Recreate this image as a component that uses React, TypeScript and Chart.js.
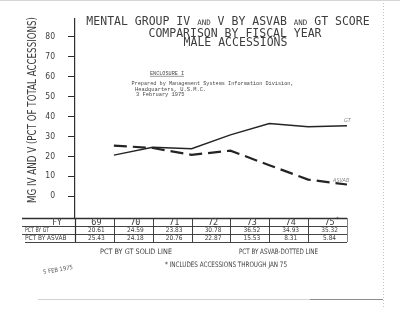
import React, { useEffect, useRef } from 'react';
import { Chart, registerables } from 'chart.js';

Chart.register(...registerables);

const fiscalYears = [69, 70, 71, 72, 73, 74, 75];
const fyLabels = ['69', '70', '71', '72', '73', '74', '75'];
const pctByGT = [20.61, 24.59, 23.83, 30.78, 36.52, 34.93, 35.32];
const pctByASVAB = [25.43, 24.18, 20.76, 22.87, 15.53, 8.31, 5.84];
const yTicks = [0, 10, 20, 30, 40, 50, 60, 70, 80];

const INK = '#2f2f2f';
const TXT = '#3d3d3d';
const NARROW = '"Liberation Sans Narrow", "DejaVu Sans Condensed", "Arial Narrow", "Liberation Sans", sans-serif';
const MONO = '"DejaVu Sans Mono", "Liberation Mono", monospace';
const TYPE = '"Liberation Mono", "Courier New", monospace';

function txt(
  ctx: CanvasRenderingContext2D,
  s: string,
  x: number,
  y: number,
  font: string,
  color: string,
  align: CanvasTextAlign = 'left',
  maxW?: number
) {
  ctx.save();
  ctx.font = font;
  ctx.fillStyle = color;
  ctx.textAlign = align;
  ctx.textBaseline = 'middle';
  if (maxW) ctx.fillText(s, x, y, maxW);
  else ctx.fillText(s, x, y);
  ctx.restore();
}

const decorPlugin = {
  id: 'decor',
  beforeDraw(chart: any) {
    const ctx = chart.ctx as CanvasRenderingContext2D;
    ctx.save();
    ctx.fillStyle = '#ffffff';
    ctx.fillRect(0, 0, chart.width, chart.height);
    ctx.restore();
  },
  afterDraw(chart: any) {
    const ctx = chart.ctx as CanvasRenderingContext2D;
    const xs = chart.scales.x;
    const ys = chart.scales.y;
    const ca = chart.chartArea;

    // ---- Title (lettering-guide style) ----
    const big = `11.5px ${MONO}`;
    const small = `7.5px ${MONO}`;
    const segs: [string, string][] = [
      ['MENTAL GROUP IV ', big],
      ['AND', small],
      [' V BY ASVAB ', big],
      ['AND', small],
      [' GT SCORE', big],
    ];
    ctx.save();
    let total = 0;
    for (const [s, f] of segs) {
      ctx.font = f;
      total += ctx.measureText(s).width;
    }
    let cx = 228 - total / 2;
    for (const [s, f] of segs) {
      ctx.font = f;
      const w = ctx.measureText(s).width;
      txt(ctx, s, cx, f === big ? 22.5 : 23.5, f, TXT, 'left');
      cx += w;
    }
    ctx.restore();
    txt(ctx, 'COMPARISON BY FISCAL YEAR', 235, 33.7, big, TXT, 'center');
    txt(ctx, 'MALE ACCESSIONS', 235.5, 43.5, big, TXT, 'center');

    // ---- Y axis title ----
    ctx.save();
    ctx.translate(32.5, 110);
    ctx.rotate(-Math.PI / 2);
    txt(ctx, 'MG IV AND V (PCT OF TOTAL ACCESSIONS)', 0, 0, `12px ${NARROW}`, TXT, 'center', 186);
    ctx.restore();

    // ---- Enclosure typed note ----
    const typed = `5.4px ${TYPE}`;
    txt(ctx, 'ENCLOSURE I', 150, 73.3, typed, '#484848', 'left', 34);
    ctx.save();
    ctx.strokeStyle = '#555';
    ctx.lineWidth = 0.6;
    ctx.beginPath();
    ctx.moveTo(150, 76.3);
    ctx.lineTo(184, 76.3);
    ctx.stroke();
    ctx.restore();
    txt(ctx, 'Prepared by Management Systems Information Division,', 131.5, 84, typed, '#484848', 'left', 162);
    txt(ctx, 'Headquarters, U.S.M.C.', 135, 89.3, typed, '#484848', 'left');
    txt(ctx, '3 February 1975', 136, 94.4, typed, '#484848', 'left');

    // ---- Line end labels ----
    const endX = xs.getPixelForValue(fiscalYears[fiscalYears.length - 1]);
    txt(ctx, 'GT', endX - 3, ys.getPixelForValue(pctByGT[6]) - 5, `italic 5.5px ${NARROW}`, '#8a8a8a', 'left');
    txt(ctx, 'ASVAB', endX - 14, ys.getPixelForValue(pctByASVAB[6]) - 4, `italic 5.5px ${NARROW}`, '#8a8a8a', 'left');

    // ---- Table ----
    const tTop = ca.bottom;
    const rowH = 8;
    const leftEdge = 22;
    const rightEdge = xs.getPixelForValue(75);
    ctx.save();
    ctx.strokeStyle = INK;
    ctx.lineWidth = 1.6;
    ctx.beginPath();
    ctx.moveTo(leftEdge, tTop + 0.5);
    ctx.lineTo(rightEdge, tTop + 0.5);
    ctx.stroke();
    ctx.lineWidth = 0.9;
    for (let r = 1; r <= 3; r++) {
      ctx.beginPath();
      ctx.moveTo(leftEdge + (r === 3 ? 3 : 0), tTop + r * rowH + 0.5);
      ctx.lineTo(rightEdge, tTop + r * rowH + 0.5);
      ctx.stroke();
    }
    for (let v = 68; v <= 75; v++) {
      const px = Math.round(xs.getPixelForValue(v)) + 0.5;
      ctx.lineWidth = v === 68 ? 1.2 : 0.9;
      ctx.strokeStyle = v === 75 ? '#777' : INK;
      ctx.beginPath();
      ctx.moveTo(px, tTop);
      ctx.lineTo(px, tTop + 3 * rowH);
      ctx.stroke();
    }
    ctx.restore();

    const rowMid = (r: number) => tTop + r * rowH + rowH / 2 + 0.5;
    txt(ctx, 'FY', 57, rowMid(0), `8px ${MONO}`, TXT, 'center', 16);
    txt(ctx, 'PCT BY GT', 25, rowMid(1), `6.5px ${NARROW}`, TXT, 'left', 24);
    txt(ctx, 'PCT BY ASVAB', 25, rowMid(2), `6.5px ${NARROW}`, TXT, 'left', 48);
    fiscalYears.forEach((yr, i) => {
      const c = (xs.getPixelForValue(yr - 1) + xs.getPixelForValue(yr)) / 2 + 2;
      txt(ctx, fyLabels[i], c, rowMid(0), `8.5px ${MONO}`, TXT, 'center');
      if (i === fiscalYears.length - 1) {
        txt(ctx, '*', c + 8, rowMid(0) - 3, `6px ${MONO}`, TXT, 'center');
      }
      txt(ctx, pctByGT[i].toFixed(2), c, rowMid(1), `6.5px ${NARROW}`, TXT, 'center', 17);
      txt(ctx, pctByASVAB[i].toFixed(2), c, rowMid(2), `6.5px ${NARROW}`, TXT, 'center', 17);
    });

    // ---- Notes below table ----
    txt(ctx, 'PCT BY GT SOLID LINE', 136, 252, `7.5px ${NARROW}`, TXT, 'center', 72);
    txt(ctx, 'PCT BY ASVAB-DOTTED LINE', 278.5, 252, `7.5px ${NARROW}`, TXT, 'center', 79);
    txt(ctx, '* INCLUDES ACCESSIONS THROUGH JAN 75', 226, 265, `7.5px ${NARROW}`, TXT, 'center', 122);

    // ---- Received stamp ----
    ctx.save();
    ctx.translate(58, 270);
    ctx.rotate(-0.17);
    txt(ctx, '5 FEB 1975', 0, 0, `6px ${NARROW}`, '#555', 'center', 30);
    ctx.restore();

    // ---- Scan artifacts ----
    ctx.save();
    ctx.strokeStyle = '#c4c4c4';
    ctx.lineWidth = 1;
    ctx.setLineDash([1, 2]);
    ctx.beginPath();
    ctx.moveTo(383.5, 0);
    ctx.lineTo(383.5, 309);
    ctx.stroke();
    ctx.setLineDash([]);
    ctx.strokeStyle = '#d2d2d2';
    ctx.beginPath();
    ctx.moveTo(38, 299.5);
    ctx.lineTo(310, 299.5);
    ctx.stroke();
    ctx.strokeStyle = '#8c8c8c';
    ctx.beginPath();
    ctx.moveTo(310, 299.5);
    ctx.lineTo(383, 299.5);
    ctx.stroke();
    ctx.strokeStyle = '#d6d6d6';
    ctx.beginPath();
    ctx.moveTo(0, 0.5);
    ctx.lineTo(400, 0.5);
    ctx.stroke();
    ctx.restore();
  },
};

export default function App() {
  const ref = useRef<HTMLCanvasElement | null>(null);

  useEffect(() => {
    if (!ref.current) return;
    const chart = new Chart(ref.current, {
      type: 'line',
      data: {
        datasets: [
          {
            label: 'PCT BY GT',
            data: fiscalYears.map((x, i) => ({ x, y: pctByGT[i] })),
            borderColor: '#242424',
            borderWidth: 1.5,
            pointRadius: 0,
            tension: 0,
            fill: false,
          },
          {
            label: 'PCT BY ASVAB',
            data: fiscalYears.map((x, i) => ({ x, y: pctByASVAB[i] })),
            borderColor: '#242424',
            borderWidth: 2.2,
            borderDash: [13, 6],
            pointRadius: 0,
            tension: 0,
            fill: false,
          },
        ],
      },
      options: {
        responsive: false,
        animation: false,
        devicePixelRatio: 1,
        layout: { padding: { top: 17, right: 53, bottom: 91, left: 0 } },
        plugins: {
          legend: { display: false },
          tooltip: { enabled: false },
          title: { display: false },
        },
        scales: {
          x: { type: 'linear', min: 68, max: 75, display: false },
          y: {
            type: 'linear',
            min: -11,
            max: 89.5,
            afterFit: (s: any) => {
              s.width = 75;
            },
            afterBuildTicks: (s: any) => {
              s.ticks = yTicks.map((v) => ({ value: v }));
            },
            grid: {
              drawOnChartArea: false,
              drawTicks: true,
              tickLength: 7,
              color: INK,
              lineWidth: 1,
            },
            border: { display: true, color: INK, width: 1.2 },
            ticks: {
              padding: 13,
              color: TXT,
              font: { family: NARROW, size: 8.5 },
            },
          },
        },
      },
      plugins: [decorPlugin],
    });
    return () => chart.destroy();
  }, []);

  return (
    <canvas
      ref={ref}
      width={400}
      height={309}
      style={{ position: 'fixed', left: 0, top: 0, width: 400, height: 309 }}
    />
  );
}
